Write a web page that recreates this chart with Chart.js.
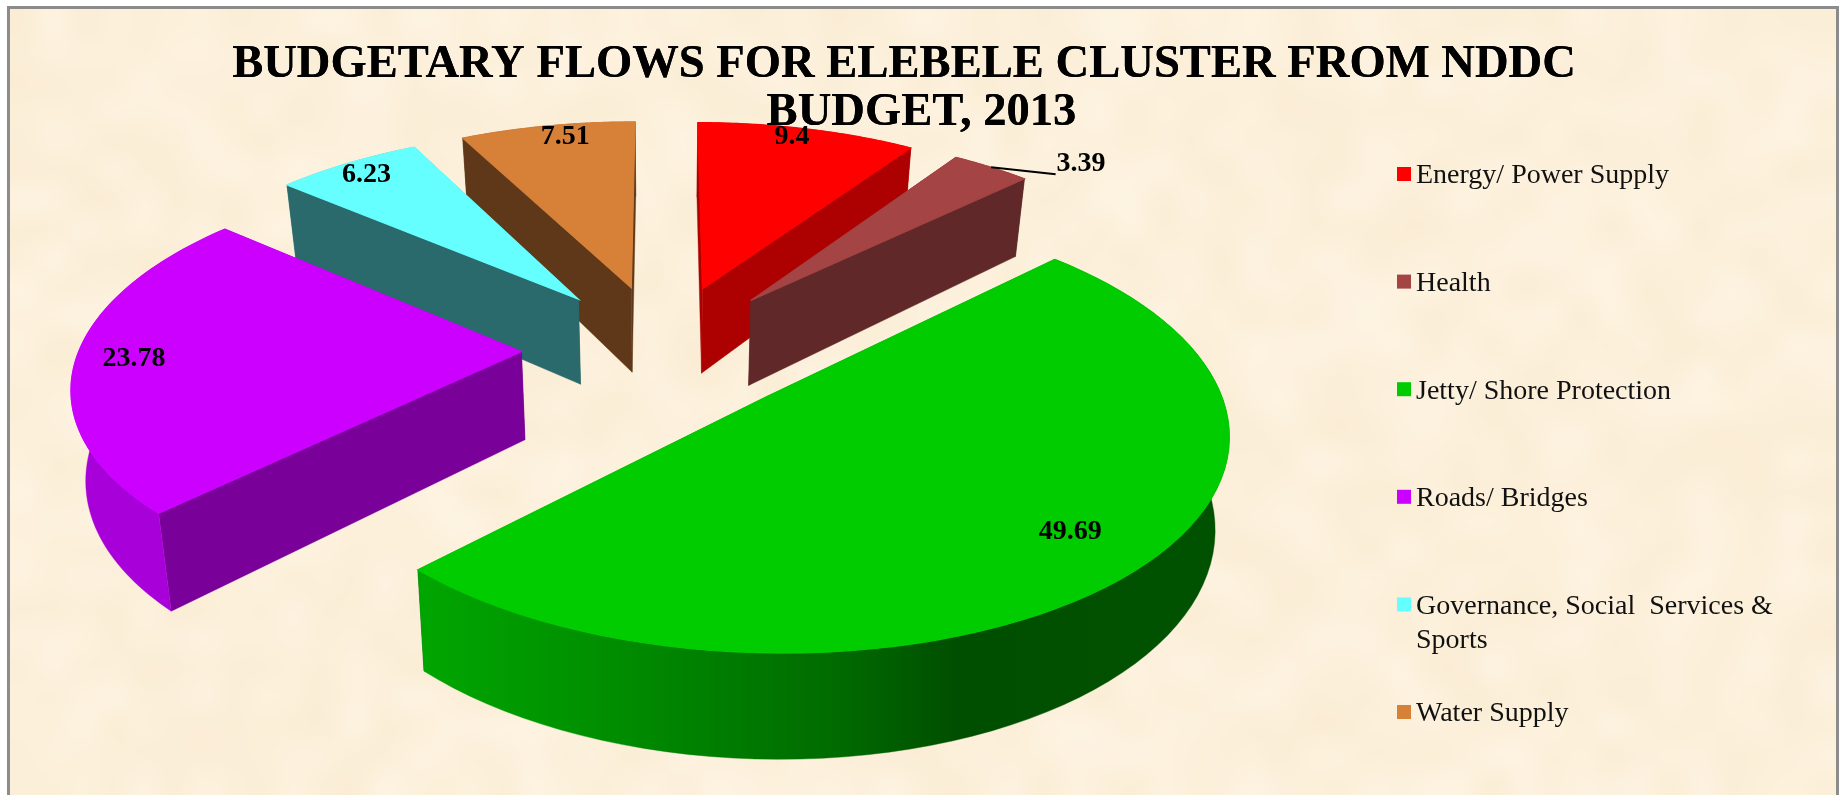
<!DOCTYPE html>
<html>
<head>
  <title>Budgetary flows for Elebele cluster</title>
  <script src="https://cdn.jsdelivr.net/npm/chart.js"></script>
  <style>
    html, body { margin: 0; padding: 0; background: #fff; }
    canvas { display: block; }
  </style>
</head>
<body>
  <canvas id="chartCanvas" width="1840" height="795"></canvas>

<script>
  const categories = ["Energy/ Power Supply", "Health", "Jetty/ Shore Protection", "Roads/ Bridges", "Governance, Social  Services & Sports", "Water Supply"];
  const values = [9.4, 3.39, 49.69, 23.78, 6.23, 7.51];
  const valueLabels = ["9.4", "3.39", "49.69", "23.78", "6.23", "7.51"];
  const legendLines = [["Energy/ Power Supply"], ["Health"], ["Jetty/ Shore Protection"], ["Roads/ Bridges"], ["Governance, Social  Services &", "Sports"], ["Water Supply"]];
  const topColors = ["#FF0000", "#A54444", "#00CC00", "#CC00FF", "#66FFFF", "#D68038"];
  const wallColors = ["#AD0000", "#602828", "#005200", "#7A009A", "#2A6A6C", "#5E3818"];
  const rimColors = ["#AD0000", "#602828", null, "#A800D8", "#2A6A6C", "#5E3818"];

  // where each value label sits, as a fraction of the radius from the slice tip
  const labelReach = [0.94, 1.18, 0.82, 0.87, 0.91, 0.92];
  const labelTurn = [-1.6, 8.1, -2, 0, 0, 2];

  // camera for the tilted pie (fitted by eye against the picture)
  const cam = { cx: 663, cy: 349, a: 442, b: 205, k: 0.14, depth: 88, shrink: 0.975, explode: 0.32 };
  const serif = "'Liberation Serif', 'Times New Roman', serif";

  function project(u, v) {
    const w = 1 - cam.k * v;
    const x = cam.cx + cam.a * u / w;
    const y = cam.cy + cam.b * v / w;
    return { x: x, y: y, bx: cam.cx + (x - cam.cx) * cam.shrink, by: y + cam.depth / w };
  }

  // theta is clockwise from 12 o'clock, r in pie radii
  function slicePoint(mid, theta, r) {
    const e = cam.explode;
    return project(e * Math.sin(mid) + r * Math.sin(theta), -e * Math.cos(mid) - r * Math.cos(theta));
  }

  function fillPoly(ctx, pts, color, edge) {
    ctx.beginPath();
    pts.forEach((p, i) => i ? ctx.lineTo(p[0], p[1]) : ctx.moveTo(p[0], p[1]));
    ctx.closePath();
    ctx.fillStyle = color;
    ctx.fill();
    ctx.strokeStyle = color;
    ctx.lineWidth = edge;
    ctx.stroke();
  }

  function paperTexture(w, h) {
    const c = document.createElement("canvas");
    c.width = Math.ceil(w / 30);
    c.height = Math.ceil(h / 30);
    const g = c.getContext("2d");
    for (let y = 0; y < c.height; y++) {
      for (let x = 0; x < c.width; x++) {
        const n = Math.sin(x * 12.9898 + y * 78.233) * 43758.5453;
        const t = (n - Math.floor(n)) * 2 - 1;
        g.fillStyle = `rgb(${Math.round(252 + t * 1.5)},${Math.round(240 + t * 3)},${Math.round(219 + t * 6)})`;
        g.fillRect(x, y, 1, 1);
      }
    }
    return c;
  }

  const piePlugin = {
    id: "tiltedPie",
    beforeDraw(chart) {
      const ctx = chart.ctx;
      ctx.save();
      ctx.fillStyle = "#fff";
      ctx.fillRect(0, 0, chart.width, chart.height);
      ctx.imageSmoothingEnabled = true;
      ctx.imageSmoothingQuality = "high";
      ctx.drawImage(paperTexture(1830, 790), 9, 9, 1828, 790);
      ctx.strokeStyle = "#8c8c8c";
      ctx.lineWidth = 3;
      ctx.beginPath();
      ctx.moveTo(8.5, 800);
      ctx.lineTo(8.5, 7.5);
      ctx.lineTo(1837.5, 7.5);
      ctx.lineTo(1837.5, 800);
      ctx.stroke();
      ctx.restore();
    },
    beforeDatasetsDraw(chart) {
      const ctx = chart.ctx;
      const arcs = chart.getDatasetMeta(0).data;
      const slices = arcs.map((arc, i) => {
        const start = arc.startAngle + Math.PI / 2;
        const end = arc.endAngle + Math.PI / 2;
        const mid = (start + end) / 2;
        return { i, start, end, mid, tip: project(cam.explode * Math.sin(mid), -cam.explode * Math.cos(mid)), depthKey: -Math.cos(mid) };
      }).sort((a, b) => a.depthKey - b.depthKey);

      ctx.save();
      slices.forEach(s => {
        const rim = [];
        const steps = 72;
        for (let n = 0; n <= steps; n++) {
          rim.push(slicePoint(s.mid, s.start + (s.end - s.start) * n / steps, 1));
        }
        const first = rim[0], last = rim[steps], tip = s.tip;
        // the two straight walls
        fillPoly(ctx, [[tip.x, tip.y], [first.x, first.y], [first.bx, first.by], [tip.bx, tip.by]], wallColors[s.i], 0.4);
        fillPoly(ctx, [[tip.x, tip.y], [last.x, last.y], [last.bx, last.by], [tip.bx, tip.by]], wallColors[s.i], 0.4);
        // the curved rim, green one shades left to right
        let rimFill = rimColors[s.i];
        if (!rimFill) {
          rimFill = ctx.createLinearGradient(420, 0, 1230, 0);
          rimFill.addColorStop(0, "#00A600");
          rimFill.addColorStop(0.25, "#008C00");
          rimFill.addColorStop(0.52, "#006A00");
          rimFill.addColorStop(0.66, "#004F00");
          rimFill.addColorStop(1, "#005200");
        }
        const rimPts = rim.map(p => [p.x, p.y]).concat(rim.slice().reverse().map(p => [p.bx, p.by]));
        fillPoly(ctx, rimPts, rimFill, 0.4);
        // top face
        fillPoly(ctx, [[tip.x, tip.y]].concat(rim.map(p => [p.x, p.y])), topColors[s.i], 1.2);
      });

      // the slices hide the title here, so put it back on top
      chart.titleBlock.draw(chart.chartArea);

      // value labels
      ctx.font = "bold 28px " + serif;
      ctx.fillStyle = "#000";
      ctx.textAlign = "center";
      ctx.textBaseline = "middle";
      slices.forEach(s => {
        const a = s.mid + labelTurn[s.i] * Math.PI / 180;
        const p = slicePoint(s.mid, a, labelReach[s.i]);
        ctx.fillText(valueLabels[s.i], p.x, p.y);
        if (labelReach[s.i] > 1) {
          const from = slicePoint(s.mid, s.mid, 1);
          const to = slicePoint(s.mid, a, 1.08);
          ctx.beginPath();
          ctx.moveTo(from.x, from.y);
          ctx.lineTo(to.x, to.y);
          ctx.strokeStyle = "#000";
          ctx.lineWidth = 2;
          ctx.stroke();
        }
      });

      // legend, row heights are even even where a label wraps
      const rowY = 173, rowGap = 107.6;
      ctx.font = "28px " + serif;
      ctx.textAlign = "left";
      legendLines.forEach((lines, i) => {
        const y = rowY + i * rowGap;
        ctx.fillStyle = topColors[i];
        ctx.fillRect(1397, y - 6, 14, 14);
        ctx.fillStyle = "#111";
        lines.forEach((line, j) => ctx.fillText(line, 1416, y + 3 + j * 34));
      });
      ctx.restore();
      return false;
    }
  };

  new Chart(document.getElementById("chartCanvas").getContext("2d"), {
    type: "pie",
    data: {
      labels: categories,
      datasets: [{ data: values, backgroundColor: topColors, borderWidth: 0 }]
    },
    options: {
      responsive: false,
      animation: false,
      layout: { padding: { right: 32 } },
      plugins: {
        legend: { display: false },
        tooltip: { enabled: false },
        title: {
          display: true,
          fullSize: false,
          text: ["BUDGETARY FLOWS FOR ELEBELE CLUSTER FROM NDDC", "   BUDGET, 2013"],
          color: "#000",
          font: { family: serif, size: 46.6, weight: "bold", lineHeight: 1.05 },
          padding: { top: 40, bottom: 0 }
        }
      }
    },
    plugins: [piePlugin]
  });
</script>
</body>
</html>
